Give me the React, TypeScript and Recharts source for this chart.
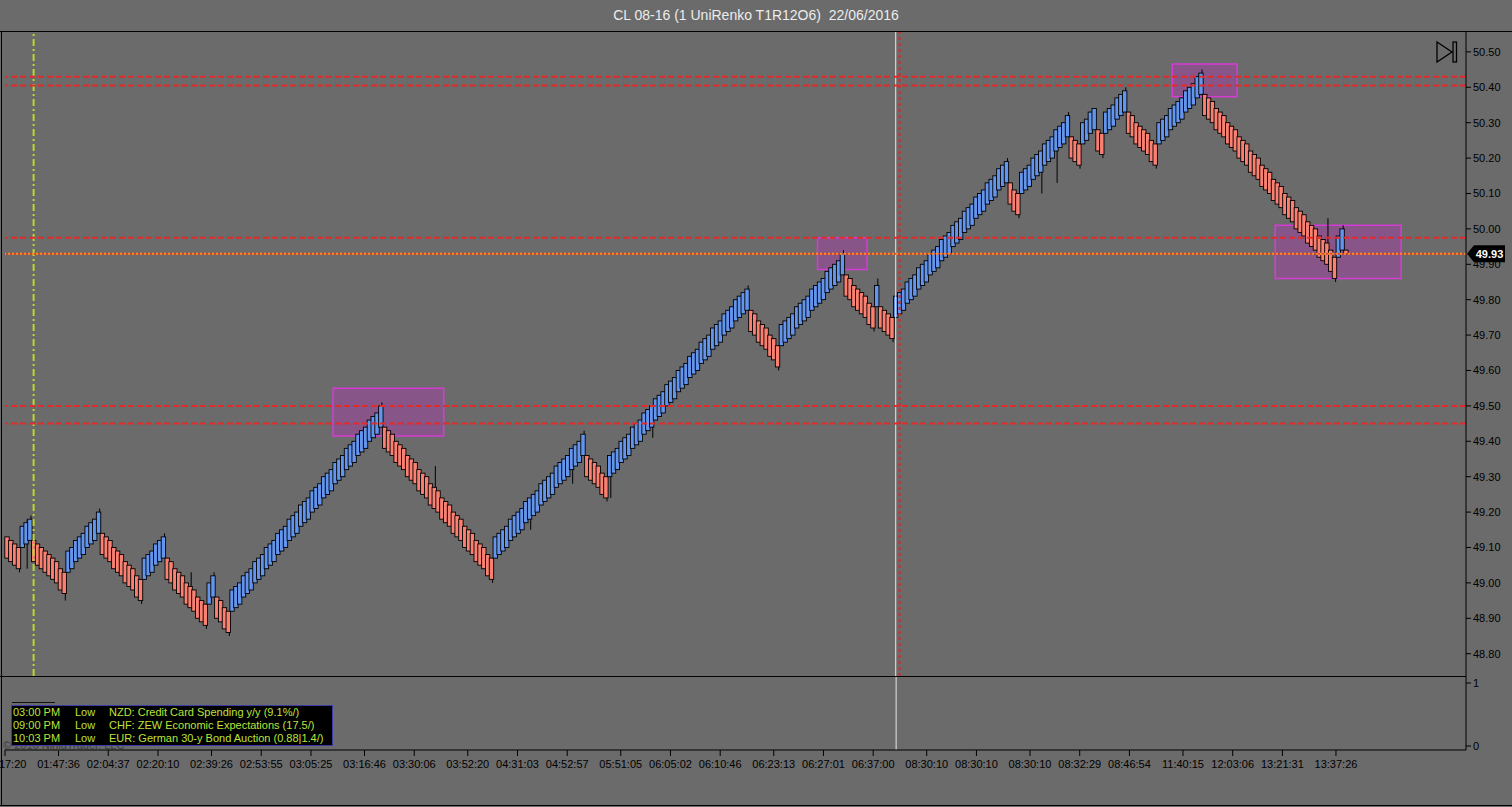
import React from "react";
import { ComposedChart, Bar, Line, XAxis, YAxis, ReferenceLine, ReferenceArea } from "recharts";

// UniRenko closes, one per brick, read left to right off the chart
const CLOSES: number[] = [
  49.07, 49.06, 49.05, 49.04,
  49.16, 49.17, 49.18,
  49.06, 49.05, 49.04, 49.03, 49.02, 49.01, 49.0, 48.98, 48.97,
  49.09, 49.1, 49.12, 49.13, 49.14, 49.16, 49.17, 49.18, 49.2,
  49.08, 49.07, 49.06, 49.04, 49.03, 49.02, 49.0, 48.99, 48.98, 48.96, 48.95,
  49.07, 49.08, 49.09, 49.11, 49.12, 49.13,
  49.01, 49.0, 48.98, 48.97, 48.96, 48.94, 48.93, 48.92, 48.9, 48.89, 48.88,
  49.0, 49.02,
  48.9, 48.89, 48.87, 48.86,
  48.98, 48.99, 49.0, 49.02, 49.03, 49.04, 49.06, 49.07, 49.08, 49.1,
  49.11, 49.12, 49.14, 49.15, 49.16, 49.18, 49.19, 49.2, 49.22, 49.23,
  49.24, 49.26, 49.27, 49.28, 49.3, 49.31, 49.32, 49.34, 49.35, 49.36,
  49.38, 49.39, 49.4, 49.42, 49.43, 49.44, 49.46, 49.47, 49.48, 49.5,
  49.38, 49.37, 49.36, 49.34, 49.33, 49.32, 49.3, 49.29, 49.28, 49.26,
  49.25, 49.24, 49.22, 49.21, 49.2, 49.18, 49.17, 49.16, 49.14, 49.13,
  49.12, 49.1, 49.09, 49.08, 49.06, 49.05, 49.04, 49.02, 49.01,
  49.13, 49.14, 49.15, 49.16, 49.18, 49.19, 49.2, 49.21, 49.23, 49.24,
  49.25, 49.26, 49.28, 49.29, 49.3, 49.31, 49.33, 49.34, 49.35, 49.36,
  49.38, 49.39, 49.4, 49.42,
  49.3, 49.29, 49.28, 49.27, 49.25, 49.24,
  49.36, 49.37, 49.38, 49.4, 49.41, 49.42, 49.44, 49.45, 49.46, 49.48,
  49.49, 49.5, 49.52, 49.53, 49.54, 49.56, 49.57, 49.58, 49.6, 49.61,
  49.62, 49.64, 49.65, 49.66, 49.68, 49.69, 49.7, 49.72, 49.73, 49.74,
  49.76, 49.77, 49.78, 49.8, 49.81, 49.82, 49.83,
  49.71, 49.7, 49.68, 49.67, 49.66, 49.64, 49.63, 49.61,
  49.73, 49.74, 49.75, 49.76, 49.78, 49.79, 49.8, 49.81, 49.83, 49.84,
  49.85, 49.86, 49.88, 49.89, 49.9, 49.91, 49.93,
  49.81, 49.8, 49.78, 49.77, 49.76, 49.75, 49.73, 49.72,
  49.84,
  49.72, 49.71, 49.7, 49.69,
  49.81, 49.82, 49.83, 49.85, 49.86, 49.87, 49.89, 49.9, 49.91, 49.93,
  49.94, 49.95, 49.97, 49.98, 49.99, 50.01, 50.02, 50.03, 50.05, 50.06,
  50.07, 50.09, 50.1, 50.11, 50.13, 50.14, 50.15, 50.17, 50.18, 50.19,
  50.07, 50.05, 50.04,
  50.16, 50.17, 50.18, 50.2, 50.21, 50.22, 50.24, 50.25, 50.26, 50.28, 50.29, 50.3, 50.32,
  50.2, 50.19, 50.18,
  50.3, 50.31, 50.33, 50.34,
  50.22, 50.21,
  50.33, 50.34, 50.35, 50.37, 50.38, 50.39,
  50.27, 50.26, 50.24, 50.23, 50.22, 50.21, 50.19, 50.18,
  50.3, 50.31, 50.32, 50.34, 50.35, 50.36, 50.37, 50.39, 50.4, 50.41, 50.43, 50.44,
  50.32, 50.31, 50.3, 50.28, 50.27, 50.26, 50.24, 50.23, 50.22, 50.2,
  50.19, 50.18, 50.16, 50.15, 50.14, 50.12, 50.11, 50.1, 50.08, 50.07,
  50.06, 50.04, 50.03, 50.02, 50.0, 49.99, 49.98, 49.96, 49.95, 49.94,
  49.92, 49.91, 49.9, 49.88, 49.86,
  49.98, 50.0,
  49.93,
];

// the forming bar at the far right has a tiny body
const OPEN_OVERRIDES: [number, number][] = [[351, 49.94]];

// [brick index, wick high, wick low]
const WICKS: [number, number | null, number | null][] = [
  [3, null, 49.03], [5, 49.18, 49.04], [6, 49.19, null], [15, null, 48.95],
  [24, 49.21, null], [35, null, 48.94], [41, 49.14, null], [48, 49.03, null],
  [52, null, 48.87], [54, 49.03, null], [58, null, 48.85], [98, 49.51, null],
  [112, 49.33, null], [127, null, 49.0], [137, null, 49.15], [148, null, 49.28],
  [151, 49.43, null], [157, null, 49.23], [158, null, 49.24], [169, null, 49.41],
  [194, 49.84, null], [202, null, 49.6], [219, 49.94, null], [227, null, 49.71],
  [228, 49.86, null], [232, null, 49.68], [262, 50.2, null], [265, null, 50.03],
  [271, null, 50.1], [275, null, 50.13], [278, 50.33, null], [281, null, 50.17],
  [287, null, 50.2], [293, 50.4, null], [301, null, 50.17], [313, 50.45, null],
  [346, 50.03, null], [348, null, 49.85], [350, 50.01, null],
];

const BRICK_OFFSET = 0.06;
const PAD_SLOTS = 31;

const PRICE_TICKS = [48.8, 48.9, 49.0, 49.1, 49.2, 49.3, 49.4, 49.5, 49.6, 49.7, 49.8, 49.9, 50.0, 50.1, 50.2, 50.3, 50.4, 50.5];
const TICK_IDX = [0, 14, 27, 40, 54, 67, 80, 94, 107, 121, 134, 147, 161, 174, 187, 201, 214, 227, 241, 254, 268, 281, 294, 308, 321, 334, 348];
const TIME_LABELS = [
  "01:17:20", "01:47:36", "02:04:37", "02:20:10", "02:39:26", "02:53:55", "03:05:25", "03:16:46", "03:30:06",
  "03:52:20", "04:31:03", "04:52:57", "05:51:05", "06:05:02", "06:10:46", "06:23:13", "06:27:01", "06:37:00",
  "08:30:10", "08:30:10", "08:30:10", "08:32:29", "08:46:54", "11:40:15", "12:03:06", "13:21:31", "13:37:26",
];

const RED_LEVELS = [50.43, 50.405, 49.975, 49.5, 49.45];
const LAST_PRICE = 49.93;
const SESSION_BAR = 7;
const CURSOR_BAR = 233;
const ZONES = [
  { x1: 86, x2: 114, top: 49.55, bottom: 49.415 },
  { x1: 213, x2: 225, top: 49.975, bottom: 49.885 },
  { x1: 306, x2: 322, top: 50.466, bottom: 50.373 },
  { x1: 333, x2: 365, top: 50.01, bottom: 49.86 },
];

const EVENTS = [
  ["03:00 PM", "Low", "NZD: Credit Card Spending y/y (9.1%/)"],
  ["09:00 PM", "Low", "CHF: ZEW Economic Expectations (17.5/)"],
  ["10:03 PM", "Low", "EUR: German 30-y Bond Auction (0.88|1.4/)"],
];

const BG = "#6b6b6b";
const UP = "#6495ed";
const DOWN = "#fa8072";
const FONT = "'Liberation Sans', Arial, sans-serif";

type Row = { i: number; open?: number; close?: number; up?: boolean; range?: [number, number] };

const rows: Row[] = CLOSES.map((c, i) => {
  const up = i > 0 && c > CLOSES[i - 1];
  let open = up ? c - BRICK_OFFSET : c + BRICK_OFFSET;
  const ov = OPEN_OVERRIDES.find((o) => o[0] === i);
  if (ov) open = ov[1];
  let high = Math.max(open, c);
  let low = Math.min(open, c);
  const w = WICKS.find((k) => k[0] === i);
  if (w) {
    if (w[1] != null) high = w[1];
    if (w[2] != null) low = w[2];
  }
  return { i, open, close: c, up, range: [low, high] };
});
for (let k = 0; k < PAD_SLOTS; k++) rows.push({ i: CLOSES.length + k });

function Candle(props: any) {
  const { x, y, width, height, payload } = props;
  if (!payload || payload.close == null || !isFinite(y) || !isFinite(height)) return <g />;
  const [low, high] = payload.range;
  const top = Math.min(y, y + height);
  const bot = Math.max(y, y + height);
  const py = (v: number) => top + ((high - v) / (high - low)) * (bot - top);
  const yo = py(payload.open);
  const yc = py(payload.close);
  // bricks are a touch wider than their slot so neighbours share an outline
  const bw = 4.4;
  const left = x + width / 2 - bw / 2;
  const cx = left + bw * 0.75;
  return (
    <g>
      <line x1={cx} x2={cx} y1={top} y2={bot} stroke="#000" strokeWidth={1} />
      <rect
        x={left}
        y={Math.min(yo, yc)}
        width={bw}
        height={Math.max(1, Math.abs(yc - yo))}
        fill={payload.up ? UP : DOWN}
        stroke="#000"
        strokeWidth={0.9}
      />
    </g>
  );
}

function LastPriceTag(props: any) {
  const vb = props.viewBox;
  if (!vb) return null;
  const x = vb.x + vb.width;
  const y = vb.y;
  return (
    <g>
      <polygon points={`${x + 1},${y} ${x + 8},${y - 8.5} ${x + 39},${y - 8.5} ${x + 39},${y + 8.5} ${x + 8},${y + 8.5}`} fill="#000" />
      <text x={x + 23.5} y={y + 4} textAnchor="middle" fill="#fff" fontSize={11} fontWeight="bold" fontFamily={FONT}>
        {LAST_PRICE.toFixed(2)}
      </text>
    </g>
  );
}

const axisTick = { fill: "#000", fontSize: 11, fontFamily: FONT };

export default function App() {
  return (
    <div style={{ position: "absolute", left: 0, top: 0, width: 1512, height: 807, background: BG, overflow: "hidden", fontFamily: FONT }}>
      <div style={{ position: "absolute", left: 0, top: 7, width: 1512, textAlign: "center", color: "#ececec", fontSize: 14, whiteSpace: "pre" }}>
        {"CL 08-16 (1 UniRenko T1R12O6)  22/06/2016"}
      </div>

      <div style={{ position: "absolute", left: 0, top: 0 }}>
        <ComposedChart width={1512} height={676} data={rows} margin={{ top: 31, left: 5, right: 0, bottom: 0 }} barCategoryGap={0} barGap={0}>
          <XAxis dataKey="i" hide />
          <YAxis
            orientation="right"
            width={46}
            type="number"
            domain={[48.737, 50.559]}
            allowDataOverflow
            ticks={PRICE_TICKS}
            interval={0}
            tickFormatter={(v: number) => v.toFixed(2)}
            tick={axisTick}
            tickSize={5}
            tickMargin={2}
            axisLine={{ stroke: "#000" }}
            tickLine={{ stroke: "#000" }}
          />
          <ReferenceLine x={SESSION_BAR} stroke="#b9d92a" strokeWidth={2} strokeDasharray="7 3 2 3" />
          <ReferenceLine x={CURSOR_BAR} stroke="#e8e8e8" strokeWidth={1} />
          <Bar dataKey="range" shape={<Candle />} isAnimationActive={false} />
          <ReferenceLine x={CURSOR_BAR + 1} stroke="#e42525" strokeWidth={2} strokeDasharray="3 3" />
          {RED_LEVELS.map((p) => (
            <ReferenceLine key={p} y={p} stroke="#e42b2b" strokeWidth={2} strokeDasharray="6 3" />
          ))}
          <ReferenceLine y={LAST_PRICE} stroke="#d8402a" strokeWidth={1.5} />
          <ReferenceLine y={LAST_PRICE} stroke="#ff9020" strokeWidth={2} strokeDasharray="2 2" label={<LastPriceTag />} />
          {ZONES.map((z) => (
            <ReferenceArea
              key={z.x1}
              x1={z.x1}
              x2={z.x2}
              y1={z.bottom}
              y2={z.top}
              fill="#ff00ff"
              fillOpacity={0.2}
              stroke="#d43cd4"
              strokeWidth={1.5}
              strokeOpacity={1}
            />
          ))}
        </ComposedChart>
      </div>

      <div style={{ position: "absolute", left: 0, top: 676 }}>
        <ComposedChart width={1512} height={131} data={rows} margin={{ top: 0, left: 5, right: 0, bottom: 0 }}>
          <XAxis
            dataKey="i"
            ticks={TICK_IDX}
            interval={0}
            height={57}
            tickFormatter={(v: number) => TIME_LABELS[TICK_IDX.indexOf(v)] ?? ""}
            tick={axisTick}
            tickSize={6}
            tickMargin={4}
            axisLine={{ stroke: "#000" }}
            tickLine={{ stroke: "#000" }}
          />
          <YAxis
            orientation="right"
            width={46}
            type="number"
            domain={[-0.063, 1.111]}
            allowDataOverflow
            ticks={[0, 1]}
            interval={0}
            tick={axisTick}
            tickSize={5}
            tickMargin={2}
            axisLine={{ stroke: "#000" }}
            tickLine={{ stroke: "#000" }}
          />
          <ReferenceLine x={CURSOR_BAR} stroke="#e8e8e8" strokeWidth={1} />
          <Line dataKey="close" stroke="none" dot={false} isAnimationActive={false} hide />
        </ComposedChart>
      </div>

      <div style={{ position: "absolute", left: 0, top: 31, width: 1512, height: 1, background: "#000" }} />
      <div style={{ position: "absolute", left: 0, top: 676, width: 1466, height: 1, background: "#000" }} />
      <div style={{ position: "absolute", left: 1, top: 31, width: 1, height: 775, background: "#000" }} />
      <div style={{ position: "absolute", left: 0, top: 805, width: 1512, height: 1, background: "#000" }} />

      <svg style={{ position: "absolute", left: 1430, top: 38 }} width={32} height={30}>
        <polygon points="7,4 22,14 7,24" fill="none" stroke="#000" strokeWidth={1.3} />
        <rect x={23} y={4} width={3.5} height={20} fill="none" stroke="#000" strokeWidth={1.3} />
      </svg>

      <div style={{ position: "absolute", left: 3, top: 739, color: "#3c3c3c", fontSize: 11, whiteSpace: "pre" }}>
        {"© 2016 NinjaTrader, LLC"}
      </div>
      <div style={{ position: "absolute", left: 12, top: 702, width: 43, height: 1, background: "#111" }} />
      <div
        style={{
          position: "absolute",
          left: 11,
          top: 705,
          width: 320,
          height: 39,
          background: "#000",
          border: "1px solid #3b3ba8",
          color: "#bde33a",
          fontSize: 11,
          lineHeight: "13px",
        }}
      >
        {EVENTS.map((e, k) => (
          <div key={k} style={{ position: "relative", height: 13, whiteSpace: "pre" }}>
            <span style={{ position: "absolute", left: 1 }}>{e[0]}</span>
            <span style={{ position: "absolute", left: 63 }}>{e[1]}</span>
            <span style={{ position: "absolute", left: 97 }}>{e[2]}</span>
          </div>
        ))}
      </div>
    </div>
  );
}
